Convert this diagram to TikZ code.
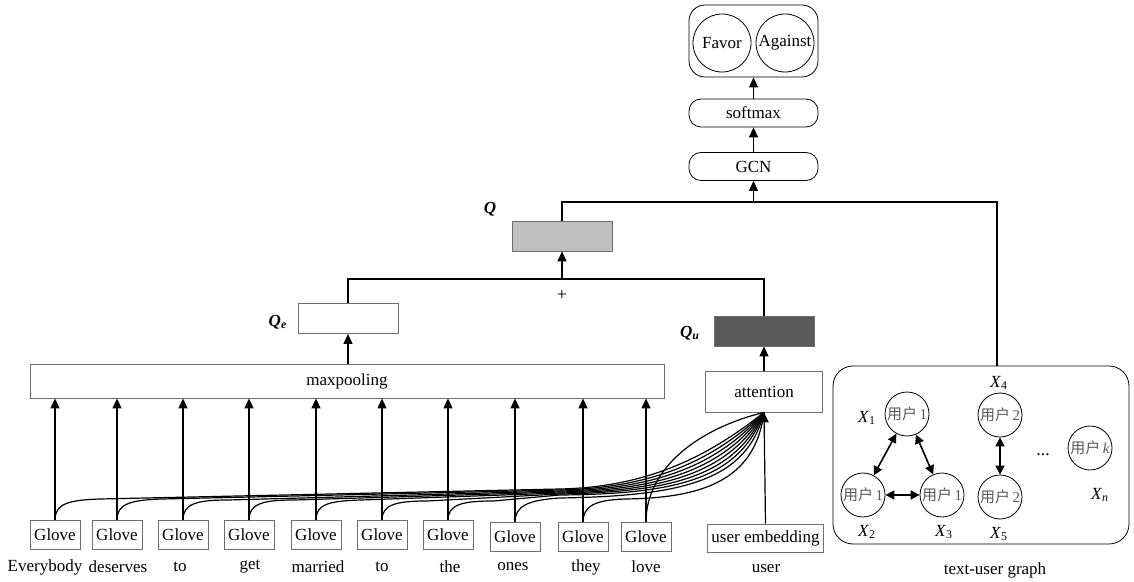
\documentclass[tikz,border=0pt]{standalone}
\usepackage{fontspec}
\setmainfont{Liberation Serif}
\newfontfamily\cjk{Noto Sans CJK SC}
\usepackage{xcolor}
\usepackage{tikz}
\usetikzlibrary{arrows.meta, positioning}
\definecolor{qgray}{RGB}{192, 192, 192}
\definecolor{qdark}{RGB}{89, 89, 89}
\definecolor{rimgray}{RGB}{110, 110, 110}

\begin{document}
\begin{tikzpicture}[x=0.5pt, y=-0.5pt, font=\fontsize{8.5}{10}\selectfont]
\tikzstyle{glove} = [rectangle, minimum width=25pt, minimum height=14.5pt, inner sep=0pt, text centered, draw=rimgray]
\tikzstyle{layer} = [rectangle, rounded corners=6pt, minimum width=64.5pt, minimum height=14pt, text centered, draw=black]
\tikzstyle{vec} = [rectangle, minimum width=50pt, minimum height=15pt, draw=rimgray]
\tikzstyle{label} = [circle, minimum size=29pt, inner sep=0pt, draw=black]
\tikzstyle{user} = [circle, minimum size=22pt, inner sep=0pt, draw=black, text=black!65, font=\fontsize{7.5}{8}\selectfont]
\tikzstyle{arrow} = [semithick, -{Triangle[length=5pt, width=4.5pt]}]
\tikzstyle{link} = [thick, {Triangle[length=4.5pt, width=4.5pt]}-{Triangle[length=4.5pt, width=4.5pt]}]

\useasboundingbox (0,0) rectangle (1134,582);

% Output
\node[rectangle, rounded corners=8pt, draw=black, minimum width=64.5pt, minimum height=36pt] (out) at (753.5,41) {};
\node[label] (favor) at (722,43) {Favor};
\node[label] (against) at (785,43) {Against};
\node[layer] (softmax) at (753.5,113) {softmax};
\node[layer] (gcn) at (753.5,166.5) {GCN};

% Text and user vectors
\node[vec, fill=qgray] (q) at (562,236) {};
\node[vec] (qe) at (348,318.5) {};
\node[vec, fill=qdark] (qu) at (764,331) {};
\node (qlab) at (490,209) {\textbf{\textit{Q}}};
\node (qelab) at (278,322) {\textbf{\textit{Q}}\textsubscript{\textbf{\textit{e}}}};
\node (qulab) at (690,333) {\textbf{\textit{Q}}\textsubscript{\textbf{\textit{u}}}};
\node (plus) at (562,295) {\small +};
\coordinate (sum) at (562,279);
\coordinate (top) at (753.5,202);

\node[rectangle, minimum width=317pt, minimum height=17pt, draw=rimgray] (maxpool) at (347,381) {maxpooling};
\node[rectangle, minimum width=58.5pt, minimum height=20.5pt, draw=rimgray] (att) at (764,391.5) {attention};

% Words
\node[glove] (g1) at (55,535) {Glove};
\node[glove] (g2) at (117,535) {Glove};
\node[glove] (g3) at (183,535) {Glove};
\node[glove] (g4) at (249,535) {Glove};
\node[glove] (g5) at (316,535) {Glove};
\node[glove] (g6) at (382,535) {Glove};
\node[glove] (g7) at (448,535) {Glove};
\node[glove] (g8) at (515,537) {Glove};
\node[glove] (g9) at (583,537) {Glove};
\node[glove] (g10) at (646,537) {Glove};
\node[rectangle, minimum width=58pt, minimum height=14pt, inner sep=0pt, draw=rimgray] (ue) at (765.5,538) {user embedding};

\node (w1) at (45,567) {Everybody};
\node (w2) at (118,567) {deserves};
\node (w3) at (180,567) {to};
\node (w4) at (250,567) {get};
\node (w5) at (318,567) {married};
\node (w6) at (382,567) {to};
\node (w7) at (450,567) {the};
\node (w8) at (513,567) {ones};
\node (w9) at (586,567) {they};
\node (w10) at (646,567) {love};
\node (wu) at (766,569) {user};

% Graph
\node[rectangle, rounded corners=10pt, minimum width=148pt, minimum height=89pt, draw=black] (graph) at (981,455) {};
\coordinate (gtop) at (997,366);
\node[user] (u1) at (907,414) {{\cjk 用户}\,1};
\node[user] (u2) at (863,495) {{\cjk 用户}\,1};
\node[user] (u3) at (942,495) {{\cjk 用户}\,1};
\node[user] (u4) at (1000,415) {{\cjk 用户}\,2};
\node[user] (u5) at (1000,497) {{\cjk 用户}\,2};
\node[user] (uk) at (1090,448) {{\cjk 用户}\,\textit{k}};
\node (x1) at (867,418) {\textit{X}\textsubscript{1}};
\node (x2) at (867,532) {\textit{X}\textsubscript{2}};
\node (x3) at (944,532) {\textit{X}\textsubscript{3}};
\node (x4) at (999,383) {\textit{X}\textsubscript{4}};
\node (x5) at (999,534) {\textit{X}\textsubscript{5}};
\node (xn) at (1100,495) {\textit{X}\textsubscript{\textit{n}}};
\node (dots) at (1043,455) {\small ...};
\node (gcap) at (995,570) {text-user graph};

% Arrows
\draw[arrow] (softmax) -- (out);
\draw[arrow] (gcn) -- (softmax);
\draw[arrow] (top) -- (gcn);
\draw[semithick] (q.north) |- (gtop |- top) -- (gtop);
\draw[semithick] (qe.north) |- (sum) -| (qu.north);
\draw[arrow] (sum) -- (q.south);
\draw[arrow] (maxpool.north -| qe) -- (qe.south);
\draw[arrow] (att.north -| qu) -- (qu.south);
\draw[arrow] (ue.north) -- (att.south);

\draw[arrow] (g1.north) -- (g1.north |- maxpool.south);
\draw[arrow] (g2.north) -- (g2.north |- maxpool.south);
\draw[arrow] (g3.north) -- (g3.north |- maxpool.south);
\draw[arrow] (g4.north) -- (g4.north |- maxpool.south);
\draw[arrow] (g5.north) -- (g5.north |- maxpool.south);
\draw[arrow] (g6.north) -- (g6.north |- maxpool.south);
\draw[arrow] (g7.north) -- (g7.north |- maxpool.south);
\draw[arrow] (g8.north) -- (g8.north |- maxpool.south);
\draw[arrow] (g9.north) -- (g9.north |- maxpool.south);
\draw[arrow] (g10.north) -- (g10.north |- maxpool.south);

% Attention inputs
\draw[semithick] (g1.north) .. controls (55,504) and (68,500) .. (100,499) -- (560,489) .. controls (650,487) and (710,455) .. (att.south);
\draw[semithick] (g2.north) .. controls (117,504) and (130,500) .. (162,499) -- (560,490) .. controls (655,488) and (715,459) .. (att.south);
\draw[semithick] (g3.north) .. controls (183,504) and (196,500) .. (228,500) -- (560,491) .. controls (660,489) and (720,463) .. (att.south);
\draw[semithick] (g4.north) .. controls (249,504) and (262,500) .. (294,500) -- (560,492) .. controls (665,490) and (725,467) .. (att.south);
\draw[semithick] (g5.north) .. controls (316,504) and (329,501) .. (361,500) -- (560,493) .. controls (670,491) and (730,471) .. (att.south);
\draw[semithick] (g6.north) .. controls (382,505) and (395,501) .. (427,501) -- (560,494) .. controls (675,492) and (735,475) .. (att.south);
\draw[semithick] (g7.north) .. controls (448,505) and (461,501) .. (493,501) -- (560,495) .. controls (680,494) and (740,478) .. (att.south);
\draw[semithick] (g8.north) .. controls (515,506) and (528,500) .. (560,498) .. controls (685,496) and (747,480) .. (att.south);
\draw[semithick] (g9.north) .. controls (583,506) and (595,500) .. (625,499) .. controls (700,498) and (755,482) .. (att.south);
\draw[semithick] (g10.north) .. controls +(0,-55) and (700,428) .. (att.south);

% Graph links
\draw[link] (u1) -- (u2);
\draw[link] (u1) -- (u3);
\draw[link] (u2) -- (u3);
\draw[link] (u4) -- (u5);
\end{tikzpicture}
\end{document}
